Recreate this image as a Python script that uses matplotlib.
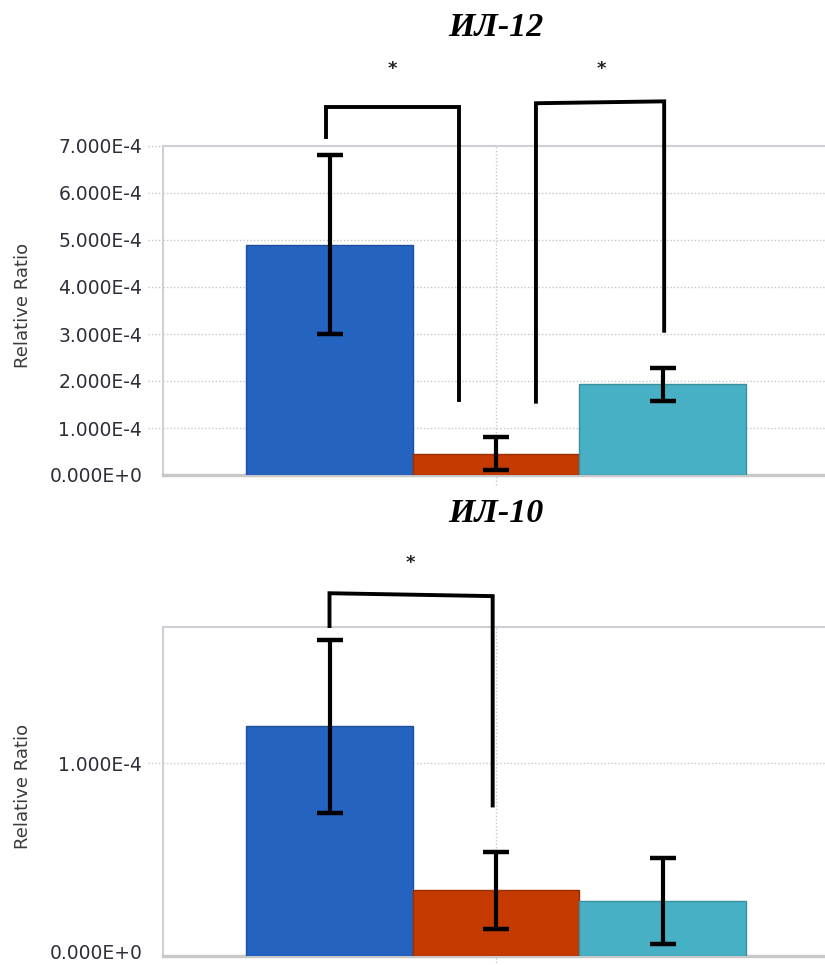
import matplotlib
matplotlib.use("Agg")
import math
import matplotlib.pyplot as plt
import matplotlib.transforms as mtransforms
from matplotlib.ticker import FuncFormatter, FixedLocator

# ---------------- data ----------------
titles = ["ИЛ-12", "ИЛ-10"]
bar_colors = ["#2563C0", "#C43A00", "#47B0C4"]
edge_colors = ["#1E4F9A", "#9A2E00", "#3A8E9E"]

il12_means = [4.90e-4, 0.45e-4, 1.93e-4]
il12_err = [1.90e-4, 0.35e-4, 0.35e-4]
il10_means = [1.19e-4, 0.34e-4, 0.285e-4]
il10_err = [0.45e-4, 0.20e-4, 0.225e-4]

il12_ticks = [0, 1e-4, 2e-4, 3e-4, 4e-4, 5e-4, 6e-4, 7e-4]
il10_ticks = [0, 1e-4]
il12_ylim = 7.0e-4
il10_ylim = 1.705e-4

# significance brackets: (x_left, x_right, y_left_leg_end, y_right_leg_end, y_top_left, y_top_right, star_x, star_y)
il12_brackets = [
    (-0.02, 0.78, 7.20e-4, 1.60e-4, 7.83e-4, 7.83e-4, 0.38, 8.64e-4),
    (1.24, 2.01, 1.56e-4, 3.07e-4, 7.91e-4, 7.95e-4, 1.63, 8.64e-4),
]
il10_brackets = [
    (0.0, 0.98, 1.71e-4, 0.78e-4, 1.88e-4, 1.865e-4, 0.485, 2.036e-4),
]


def sci_fmt(v, pos=None):
    if v == 0:
        return "0.000E+0"
    e = int(math.floor(math.log10(abs(v)) + 1e-9))
    m = v / 10 ** e
    sign = "+" if e >= 0 else "-"
    return f"{m:.3f}E{sign}{abs(e)}"


W, H = 825, 965
fig = plt.figure(figsize=(W / 100, H / 100), dpi=100)

grid_col = "#C8C8C8"
spine_col = "#CDD0D4"
text_col = "#2E2E38"


def make_axes(rect, means, errs, ticks, ylim, brackets, title, title_y, lift_zero=False):
    ax = fig.add_axes(rect)
    x = [0, 1, 2]
    ax.bar(x, means, width=1.0, color=bar_colors, edgecolor=edge_colors,
           linewidth=1, zorder=3)
    ax.errorbar(x, means, yerr=errs, fmt="none", ecolor="black",
                elinewidth=3, capsize=9.5, capthick=3.2, zorder=4)
    ax.set_xlim(-1, 3)
    ax.set_ylim(0, ylim)
    ax.yaxis.set_major_locator(FixedLocator(ticks))
    ax.yaxis.set_major_formatter(FuncFormatter(sci_fmt))
    ax.set_xticks([])
    ax.tick_params(axis="y", length=0, pad=15, labelsize=13.5, labelcolor=text_col)
    for s in ["top", "left", "right"]:
        ax.spines[s].set_color(spine_col)
        ax.spines[s].set_linewidth(1.5)
    ax.spines["bottom"].set_color("#C8C8C8")
    ax.spines["bottom"].set_linewidth(2.5)
    if lift_zero:
        fig.canvas.draw()
        lab = ax.yaxis.get_majorticklabels()[0]
        lab.set_transform(lab.get_transform() +
                          mtransforms.ScaledTranslation(0, 3 / 72, fig.dpi_scale_trans))
    # horizontal dotted gridlines (also extending left of axis as tick stubs)
    trans = mtransforms.blended_transform_factory(ax.transAxes, ax.transData)
    for t in ticks:
        if 0 < t < ylim * 0.999:
            ax.plot([0, 1], [t, t], transform=trans, color=grid_col, lw=1,
                    ls=(0, (1, 1.5)), zorder=1)
        if t > 0:
            ax.plot([-0.022, 0], [t, t], transform=trans, color=grid_col, lw=1,
                    ls=(0, (1, 1.5)), zorder=1, clip_on=False)
    # central vertical dotted gridline
    transv = mtransforms.blended_transform_factory(ax.transData, ax.transAxes)
    ax.plot([1, 1], [-0.03, 1], transform=transv, color=grid_col, lw=1,
            ls=(0, (1, 1.5)), zorder=1, clip_on=False)
    # brackets
    for (xl, xr, yl, yr, ytl, ytr, sx, sy) in brackets:
        ax.plot([xl, xl, xr, xr], [yl, ytl, ytr, yr], color="black", lw=2.8,
                solid_joinstyle="miter", clip_on=False, zorder=5)
        ax.text(sx, sy, "*", ha="center", va="center", fontsize=13,
                fontweight="bold", color="#222222", clip_on=False)
    # y label
    yc = rect[1] + rect[3] * 0.5
    fig.text(23 / W, yc + 0.005, "Relative Ratio", rotation=90, ha="center",
             va="center", fontsize=13, color="#3a3a3a")
    fig.text(496 / W, title_y, title, ha="center", va="center",
             fontsize=24.5, fontweight="bold", fontstyle="italic",
             family="Liberation Serif", color="black")
    return ax


left = 163 / W
width = 666 / W
make_axes([left, (H - 475) / H, width, 329 / H], il12_means, il12_err,
          il12_ticks, il12_ylim, il12_brackets, titles[0], 1 - 28 / H)
make_axes([left, (H - 956) / H, width, 329 / H], il10_means, il10_err,
          il10_ticks, il10_ylim, il10_brackets, titles[1], 1 - 513 / H,
          lift_zero=True)

fig.savefig("out.png", dpi=100)
